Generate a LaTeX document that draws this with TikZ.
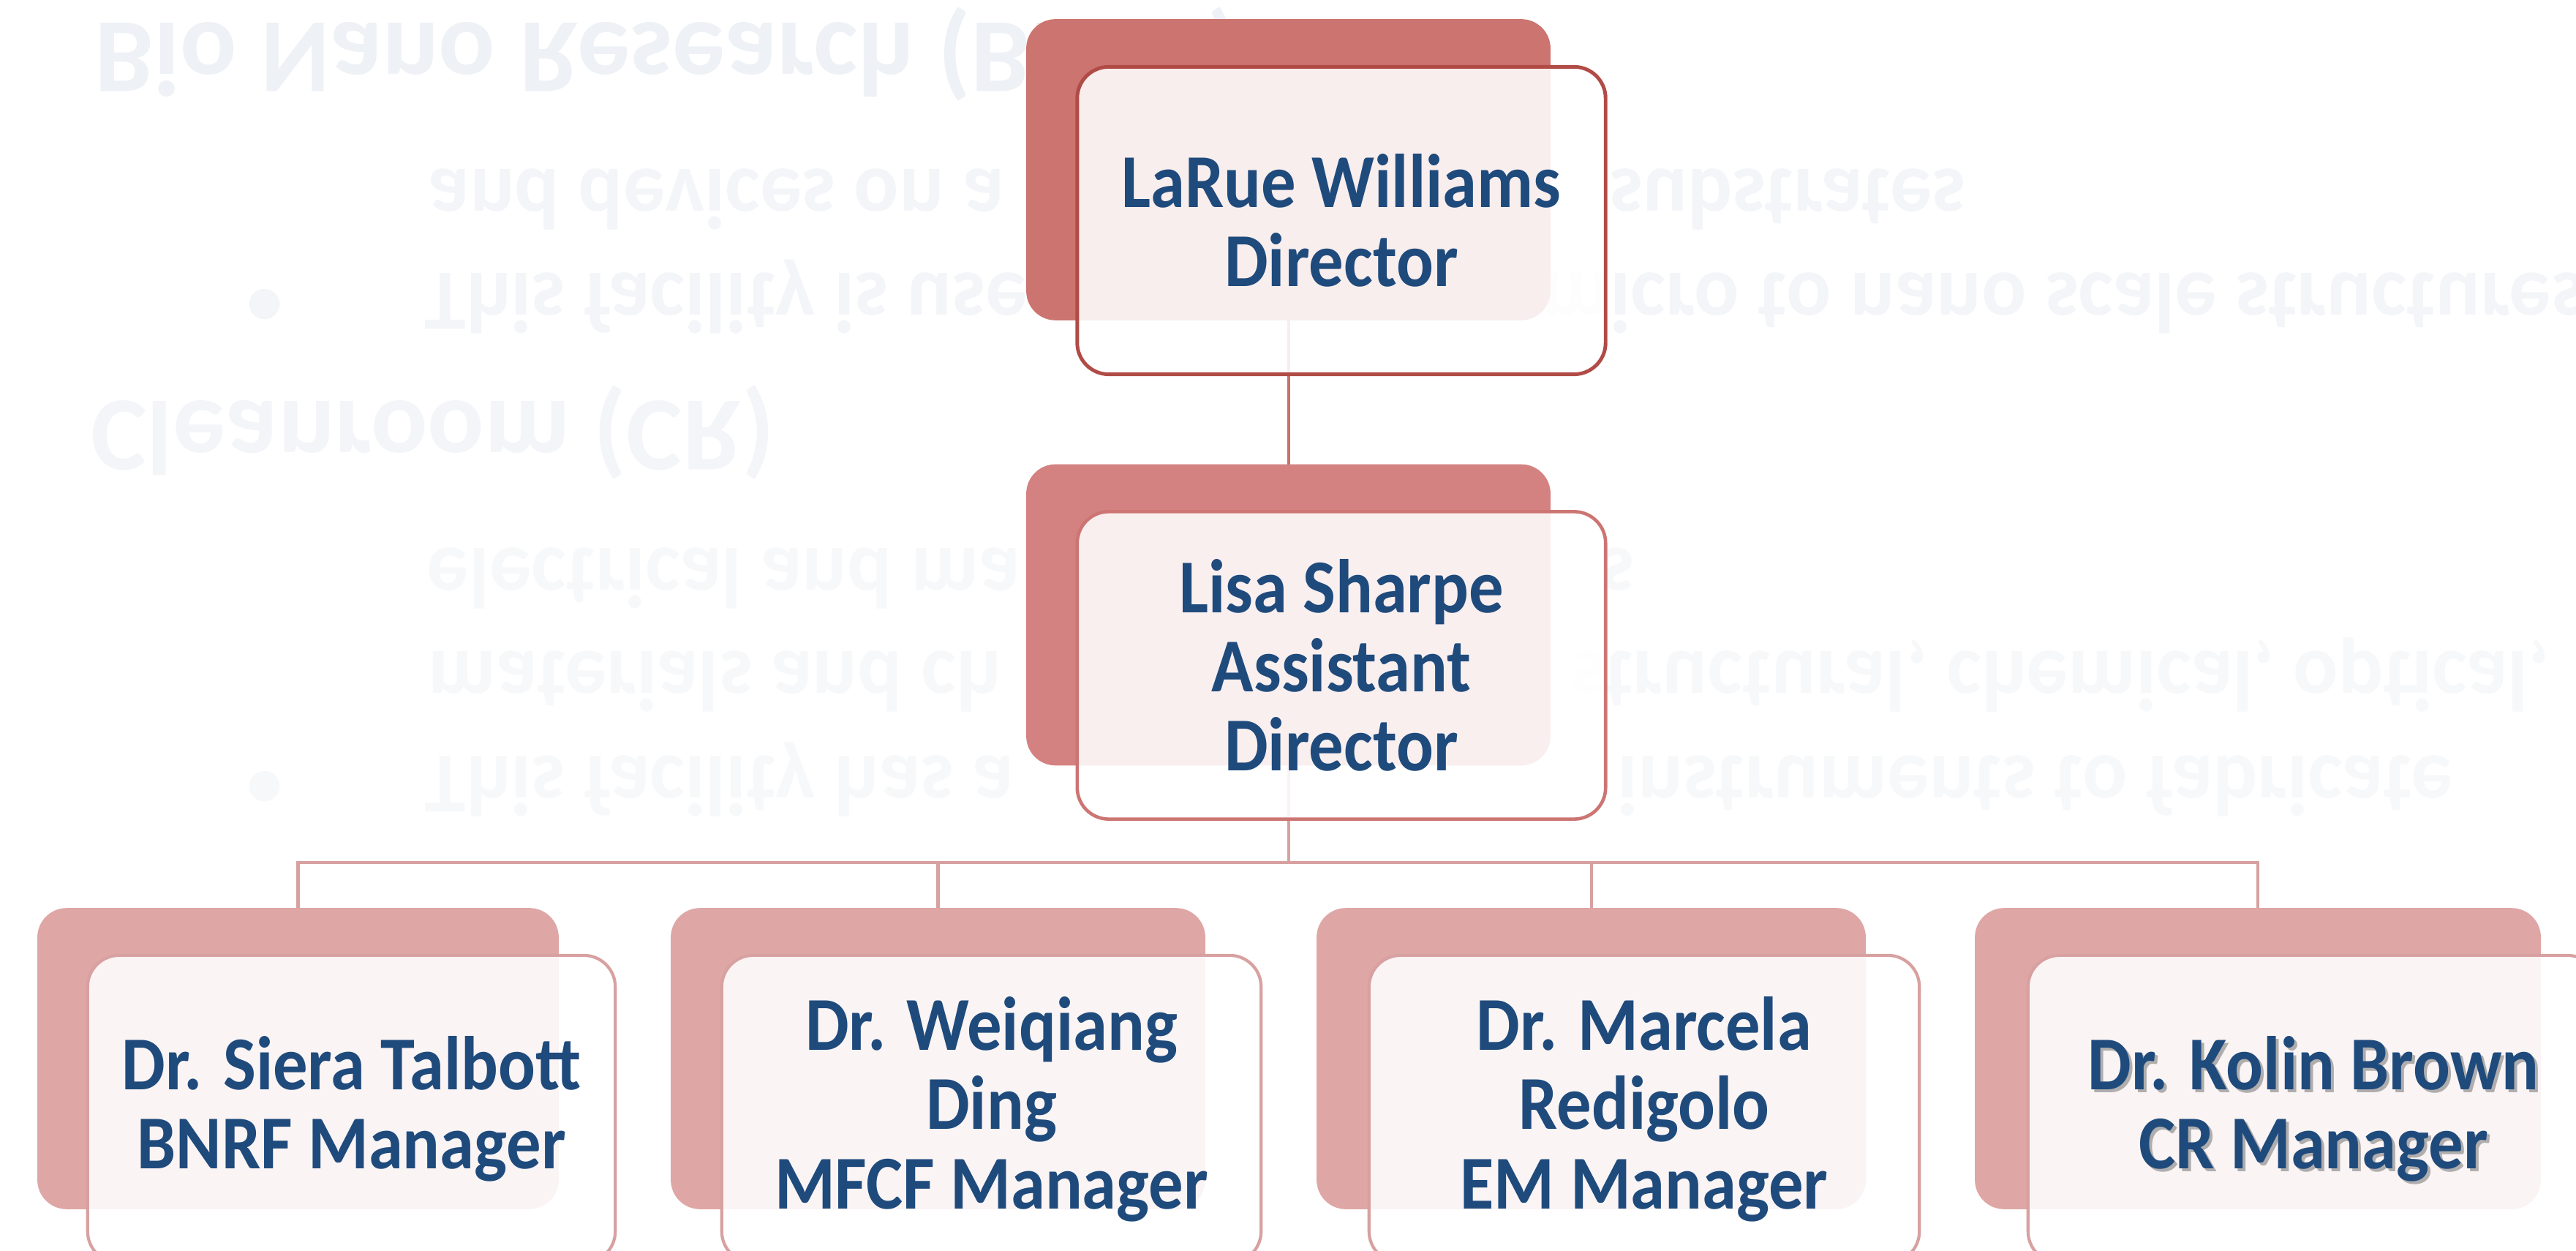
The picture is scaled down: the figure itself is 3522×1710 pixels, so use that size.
\documentclass[tikz,border=0pt]{standalone}
\usepackage{fontspec}
\usepackage{graphicx}
\setmainfont{Carlito}
\definecolor{txtblue}{HTML}{1F4A7C}
\definecolor{topback}{HTML}{CC7470}
\definecolor{topborder}{HTML}{B14B46}
\definecolor{topline}{HTML}{C8706C}
\definecolor{midback}{HTML}{D48281}
\definecolor{midborder}{HTML}{CC7573}
\definecolor{botline}{HTML}{D6A1A0}
\definecolor{botback}{HTML}{DEA6A5}
\definecolor{botborder}{HTML}{D8A1A1}
\definecolor{ghostA}{HTML}{EEF1F5}
\definecolor{ghostB}{HTML}{F3F5F8}
\definecolor{ghostC}{HTML}{F7F8FA}
\tikzset{
  backbox/.style={rounded corners=0.4cm, inner sep=0pt, draw=none, minimum height=4.10cm},
  frontbox/.style={rounded corners=0.43cm, inner sep=0pt, fill=white, fill opacity=0.88, minimum height=4.20cm},
  lbl/.style={text=txtblue, align=center, inner sep=0pt, xscale=0.91, transform shape,
              font=\fontsize{29.6}{30.8}\selectfont\bfseries},
  ghosttitle/.style={anchor=base west, inner sep=0pt, font=\fontsize{41}{48}\selectfont\bfseries},
  ghostbody/.style={anchor=base west, inner sep=0pt, font=\fontsize{33.5}{40}\selectfont\bfseries},
  ghostbullet/.style={anchor=base west, inner sep=0pt, font=\fontsize{28}{34}\selectfont\bfseries},
  conn/.style={line width=1.15pt},
}
\newcommand{\flipv}[1]{\scalebox{1}[-1]{#1}}
\newcommand{\flipb}[1]{\scalebox{0.97}[-1]{#1}}
\begin{document}
\begin{tikzpicture}[x=0.01cm,y=-0.01cm]
\useasboundingbox (0,0) rectangle (3522,1710);
% faint mirrored background text
\node[ghosttitle, text=ghostA] (g1) at (129,32) {\flipv{Bio Nano Research (BNRF)}};
\node[ghostbody, text=ghostB] (g2) at (585,232) {\flipb{and devices on a}};
\node[ghostbody, text=ghostB] (g3) at (2200,232) {\flipb{substrates}};
\node[ghostbullet, text=ghostB] (g4) at (337,389) {\flipv{•}};
\node[ghostbody, text=ghostB] (g5) at (580,374) {\flipb{This facility is use}};
\node[ghostbody, text=ghostB] (g6) at (2108,374) {\flipb{micro to nano scale structures}};
\node[ghosttitle, text=ghostB] (g7) at (124,549) {\flipv{Cleanroom (CR)}};
\node[ghostbody, text=ghostC] (g8) at (583,750) {\flipb{electrical and ma}};
\node[ghostbody, text=ghostC, anchor=base east] (g9) at (2235,750) {\flipb{s}};
\node[ghostbody, text=ghostC] (g10) at (585,890) {\flipb{materials and ch}};
\node[ghostbody, text=ghostC] (g11) at (2148,890) {\flipb{structural, chemical, optical,}};
\node[ghostbullet, text=ghostC] (g12) at (337,1047) {\flipv{•}};
\node[ghostbody, text=ghostC] (g13) at (580,1033) {\flipb{This facility has a}};
\node[ghostbody, text=ghostC] (g14) at (2211,1033) {\flipb{instruments to fabricate}};

% back boxes (positions)
\coordinate (bus) at (1761.5,1179);
\path (1761.5,232) node[backbox, minimum width=7.15cm] (bA) {};
\path (1761.5,840.5) node[backbox, minimum width=7.15cm] (bB) {};
\path (407.5,1447) node[backbox, minimum width=7.11cm] (b1) {};
\path (1282.5,1447) node[backbox, minimum width=7.29cm] (b2) {};
\path (2175.5,1447) node[backbox, minimum width=7.49cm] (b3) {};
\path (3087,1447) node[backbox, minimum width=7.72cm] (b4) {};

% connectors
\draw[conn, topline] (bA.south) -- (bB.north);
\draw[conn, botline] (bB.south) -- (bus);
\draw[conn, botline] (b1.north) -- (b1.north |- bus) -- (b4.north |- bus) -- (b4.north);
\draw[conn, botline] (b2.north) -- (b2.north |- bus);
\draw[conn, botline] (b3.north) -- (b3.north |- bus);

% back fills
\fill[topback, rounded corners=0.4cm] (bA.south west) rectangle (bA.north east);
\fill[midback, rounded corners=0.4cm] (bB.south west) rectangle (bB.north east);
\foreach \b in {b1,b2,b3,b4}
  \fill[botback, rounded corners=0.4cm] (\b.south west) rectangle (\b.north east);

% front boxes
\node[frontbox, draw=topborder, line width=1.4pt, minimum width=7.22cm] (fA) at (1834,301.5) {};
\node[frontbox, draw=midborder, line width=1.3pt, minimum width=7.22cm] (fB) at (1834,909.5) {};
\node[frontbox, draw=botborder, line width=1.2pt, minimum width=7.21cm] (f1) at (480.5,1516) {};
\node[frontbox, draw=botborder, line width=1.2pt, minimum width=7.37cm] (f2) at (1355.5,1516) {};
\node[frontbox, draw=botborder, line width=1.2pt, minimum width=7.52cm] (f3) at (2248,1516) {};
\node[frontbox, draw=botborder, line width=1.2pt, minimum width=7.80cm] (f4) at (3163,1516) {};

% labels
\node[lbl] (tA) at (fA.center) {LaRue Williams\\Director};
\node[lbl] (tB) at (fB.center) {Lisa Sharpe\\Assistant\\Director};
\node[lbl] (t1) at (f1.center) {Dr. Siera Talbott\\BNRF Manager};
\node[lbl] (t2) at (f2.center) {Dr. Weiqiang\\Ding\\MFCF Manager};
\node[lbl] (t3) at (f3.center) {Dr. Marcela\\Redigolo\\EM Manager};
\node[lbl, text=black!55, text opacity=0.55] (t4s) at ([shift={(4,4)}]f4.center) {Dr. Kolin Brown\\CR Manager};
\node[lbl] (t4) at (f4.center) {Dr. Kolin Brown\\CR Manager};
\end{tikzpicture}
\end{document}
